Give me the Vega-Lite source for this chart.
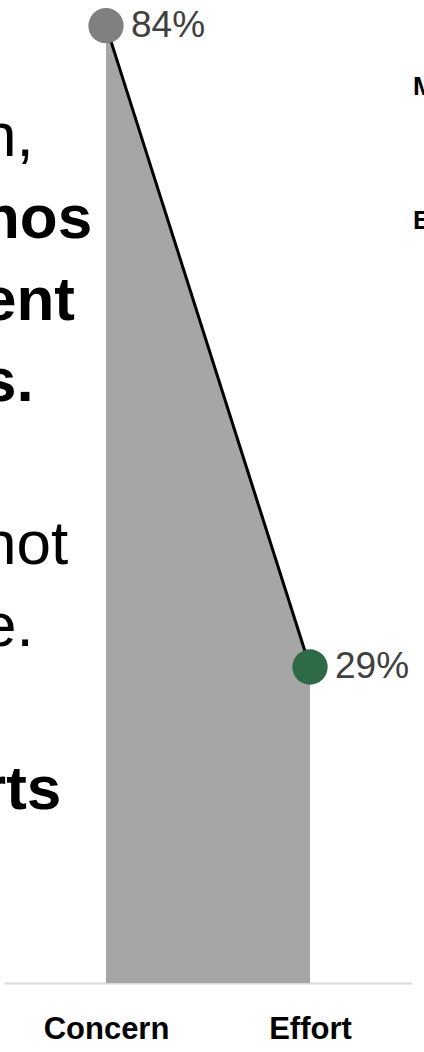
{
  "$schema": "https://vega.github.io/schema/vega-lite/v6.json",
  "width": 408,
  "height": 983,
  "autosize": {"type": "none"},
  "padding": {"left": 4, "right": 12, "top": 0, "bottom": 69},
  "background": "white",
  "config": {"view": {"stroke": null}, "font": "Liberation Sans"},
  "datasets": {
    "scores": [
      {"measure": "Concern", "share": 0.84},
      {"measure": "Effort", "share": 0.29}
    ],
    "leftText": [
      {"side": "left", "line": 1, "text": "n,", "emphasis": "plain"},
      {"side": "left", "line": 2, "text": "nos", "emphasis": "bold"},
      {"side": "left", "line": 3, "text": "ent", "emphasis": "bold"},
      {"side": "left", "line": 4, "text": "s.", "emphasis": "bold"},
      {"side": "left", "line": 6, "text": "not", "emphasis": "plain"},
      {"side": "left", "line": 7, "text": "e.", "emphasis": "plain"},
      {"side": "left", "line": 9, "text": "rts", "emphasis": "bold"}
    ],
    "rightText": [
      {"side": "right", "line": 1, "text": "M"},
      {"side": "right", "line": 2, "text": "E"}
    ]
  },
  "layer": [
    {
      "data": {"name": "scores"},
      "encoding": {
        "x": {
          "field": "measure",
          "type": "nominal",
          "sort": ["Concern", "Effort"],
          "scale": {"type": "point", "padding": 0.5},
          "axis": {
            "title": null,
            "domainColor": "#d9d9d9",
            "domainWidth": 2,
            "ticks": false,
            "grid": false,
            "labelAngle": 0,
            "labelFont": "Liberation Sans",
            "labelFontSize": 31,
            "labelFontWeight": "bold",
            "labelColor": "#000000",
            "labelPadding": 31
          }
        },
        "y": {
          "field": "share",
          "type": "quantitative",
          "scale": {"domain": [0.019, 0.862], "zero": false, "nice": false},
          "axis": null
        }
      },
      "layer": [
        {"mark": {"type": "area", "color": "#a6a6a6"}, "encoding": {"y2": {"datum": 0.019}}},
        {"mark": {"type": "line", "color": "#000000", "strokeWidth": 3}},
        {
          "mark": {"type": "point", "filled": true, "size": 1250, "opacity": 1},
          "encoding": {
            "color": {
              "field": "measure",
              "type": "nominal",
              "scale": {"domain": ["Concern", "Effort"], "range": ["#808080", "#2e6a45"]},
              "legend": null
            }
          }
        },
        {
          "mark": {"type": "text", "align": "left", "baseline": "middle", "dx": 25, "fontSize": 37, "color": "#404040", "font": "Liberation Sans"},
          "encoding": {"text": {"field": "share", "format": ".0%"}}
        }
      ]
    },
    {
      "data": {"name": "leftText"},
      "encoding": {
        "x": {"field": "side", "type": "nominal", "scale": {"type": "point", "domain": ["left", "right"], "padding": 0}, "axis": null},
        "y": {"field": "line", "type": "quantitative", "scale": {"domain": [-0.92, 11.14], "reverse": true, "zero": false, "nice": false}, "axis": null},
        "text": {"field": "text"}
      },
      "layer": [
        {
          "transform": [{"filter": "datum.emphasis === 'bold'"}],
          "mark": {"type": "text", "align": "left", "baseline": "alphabetic", "dx": -22, "fontSize": 62, "fontWeight": "bold", "font": "Liberation Sans", "color": "#000000"}
        },
        {
          "transform": [{"filter": "datum.emphasis === 'plain'"}],
          "mark": {"type": "text", "align": "left", "baseline": "alphabetic", "dx": -22, "fontSize": 62, "fontWeight": "normal", "font": "Liberation Sans", "color": "#000000"}
        }
      ]
    },
    {
      "data": {"name": "rightText"},
      "encoding": {
        "x": {"field": "side", "type": "nominal", "scale": {"type": "point", "domain": ["left", "right"], "padding": 0}, "axis": null},
        "y": {"field": "line", "type": "quantitative", "scale": {"domain": [0.291, 7.627], "reverse": true, "zero": false, "nice": false}, "axis": null},
        "text": {"field": "text"}
      },
      "mark": {"type": "text", "align": "left", "baseline": "alphabetic", "dx": 1, "fontSize": 26, "fontWeight": "bold", "font": "Liberation Sans", "color": "#000000"}
    }
  ],
  "resolve": {"scale": {"x": "independent", "y": "independent", "color": "independent"}}
}
